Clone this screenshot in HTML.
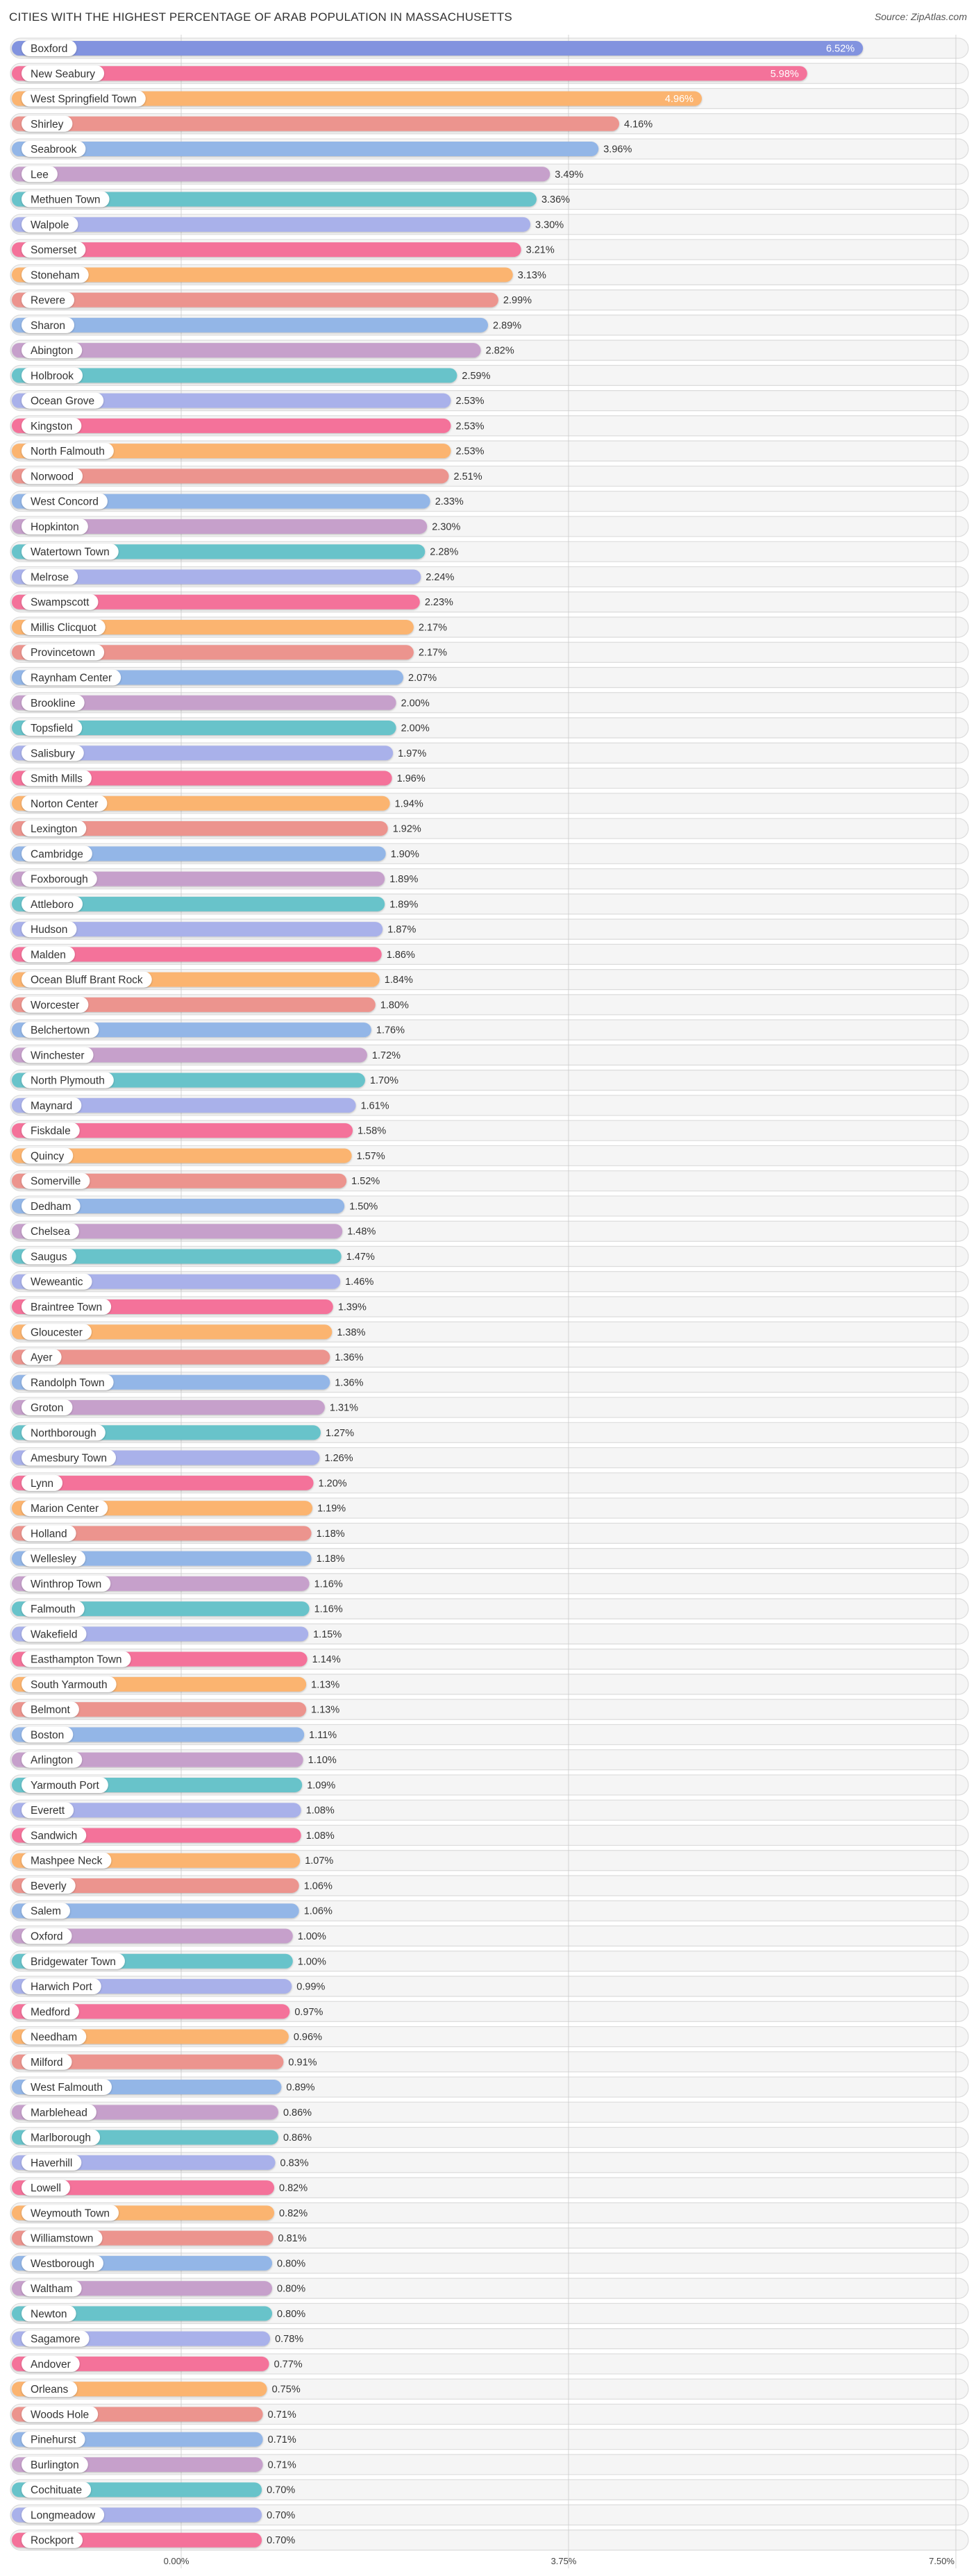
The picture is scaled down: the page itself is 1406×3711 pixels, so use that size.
<!DOCTYPE html>
<html><head><meta charset="utf-8"><style>
html,body{margin:0;padding:0;background:#fff;}
svg{display:block;font-family:"Liberation Sans",sans-serif;}
</style></head><body>
<svg id="chart" width="1406" height="3711" viewBox="0 0 1406 3711" xmlns="http://www.w3.org/2000/svg">
<defs>
<filter id="sh" x="-10%" y="-30%" width="120%" height="160%"><feDropShadow dx="0" dy="1" stdDeviation="1.2" flood-color="#000" flood-opacity="0.25"/></filter>
</defs>
<text x="13" y="30" font-size="17" fill="#333" style="letter-spacing:0.2px">CITIES WITH THE HIGHEST PERCENTAGE OF ARAB POPULATION IN MASSACHUSETTS</text>
<text x="1393" y="29" font-size="14" font-style="italic" fill="#555" text-anchor="end">Source: ZipAtlas.com</text>
<g id="bg"></g><g id="grid"></g><g id="bars"></g><g id="axis"></g>
</svg>
<script>
const categories = ["Boxford","New Seabury","West Springfield Town","Shirley","Seabrook","Lee","Methuen Town","Walpole","Somerset","Stoneham","Revere","Sharon","Abington","Holbrook","Ocean Grove","Kingston","North Falmouth","Norwood","West Concord","Hopkinton","Watertown Town","Melrose","Swampscott","Millis Clicquot","Provincetown","Raynham Center","Brookline","Topsfield","Salisbury","Smith Mills","Norton Center","Lexington","Cambridge","Foxborough","Attleboro","Hudson","Malden","Ocean Bluff Brant Rock","Worcester","Belchertown","Winchester","North Plymouth","Maynard","Fiskdale","Quincy","Somerville","Dedham","Chelsea","Saugus","Weweantic","Braintree Town","Gloucester","Ayer","Randolph Town","Groton","Northborough","Amesbury Town","Lynn","Marion Center","Holland","Wellesley","Winthrop Town","Falmouth","Wakefield","Easthampton Town","South Yarmouth","Belmont","Boston","Arlington","Yarmouth Port","Everett","Sandwich","Mashpee Neck","Beverly","Salem","Oxford","Bridgewater Town","Harwich Port","Medford","Needham","Milford","West Falmouth","Marblehead","Marlborough","Haverhill","Lowell","Weymouth Town","Williamstown","Westborough","Waltham","Newton","Sagamore","Andover","Orleans","Woods Hole","Pinehurst","Burlington","Cochituate","Longmeadow","Rockport"];
const values = [6.52,5.98,4.96,4.16,3.96,3.49,3.36,3.30,3.21,3.13,2.99,2.89,2.82,2.59,2.53,2.53,2.53,2.51,2.33,2.30,2.28,2.24,2.23,2.17,2.17,2.07,2.00,2.00,1.97,1.96,1.94,1.92,1.90,1.89,1.89,1.87,1.86,1.84,1.80,1.76,1.72,1.70,1.61,1.58,1.57,1.52,1.50,1.48,1.47,1.46,1.39,1.38,1.36,1.36,1.31,1.27,1.26,1.20,1.19,1.18,1.18,1.16,1.16,1.15,1.14,1.13,1.13,1.11,1.10,1.09,1.08,1.08,1.07,1.06,1.06,1.00,1.00,0.99,0.97,0.96,0.91,0.89,0.86,0.86,0.83,0.82,0.82,0.81,0.80,0.80,0.80,0.78,0.77,0.75,0.71,0.71,0.71,0.70,0.70,0.70];
const tickValues = [0, 3.75, 7.5];
const tickLabels = ["0.00%","3.75%","7.50%"];
const palette = ["#a9b1ea","#f4729a","#fbb470","#ec948e","#93b6e7","#c6a0cb","#67c3ca"];
const NS="http://www.w3.org/2000/svg";
function mk(t,a,p){const e=document.createElementNS(NS,t);for(const k in a)e.setAttribute(k,a[k]);p.appendChild(e);return e;}
const x = v => 273 + v*148.8;
const gx = v => 261 + v*148.8;
const y = i => 69.5 + i*36.26;
const bg=document.getElementById('bg'),grid=document.getElementById('grid'),bars=document.getElementById('bars'),axis=document.getElementById('axis');
categories.forEach((c,i)=>{
  const cy=y(i);
  const r=mk('rect',{x:15,y:cy-14.5,width:1380,height:29,rx:14.5,fill:'#f5f5f5',stroke:'#dcdcdc','stroke-width':1.2},bg);
  
  
});
tickValues.forEach((t,k)=>{
  const l=mk('line',{x1:gx(t),x2:gx(t),y1:50,y2:3700,stroke:'#ccc','stroke-width':1,opacity:0.8},grid);
  
  
  const tx=mk('text',{x:gx(t)+(k==2?-2:-7),y:3694,'font-size':13,fill:'#444','text-anchor':k==2?'end':'middle'},axis);
  
  
  tx.textContent=tickLabels[k];
});
categories.forEach((c,i)=>{
  const cy=y(i), v=values[i], col=(i==0?'#8293df':palette[i%7]);
  const g=mk('g',{},bars);
  
  
  const b=mk('rect',{x:17,y:cy-10.5,width:x(v)-17,height:21,rx:10.5,fill:col,filter:'url(#sh)'},g);
  
  
  const p=mk('rect',{x:31,y:cy-11.5,width:80,height:23,rx:11.5,fill:'#fff',filter:'url(#sh)'},g);
  
  
  const lt=mk('text',{x:44,y:cy+5.5,'font-size':15.5,fill:'#333'},g);
  
  
  lt.textContent=c;
  let tw=c.length*7.6;
  try{tw=lt.getComputedTextLength();}catch(e){}
  p.setAttribute('width',tw+26);
  const inside=i<3;
  const vt=mk('text',{x:inside?x(v)-12:x(v)+7,y:cy+5,'font-size':14.5,fill:inside?'#fff':'#333','text-anchor':inside?'end':'start'},g);
  
  
  vt.textContent=v.toFixed(2)+'%';
});
</script>
</body></html>
